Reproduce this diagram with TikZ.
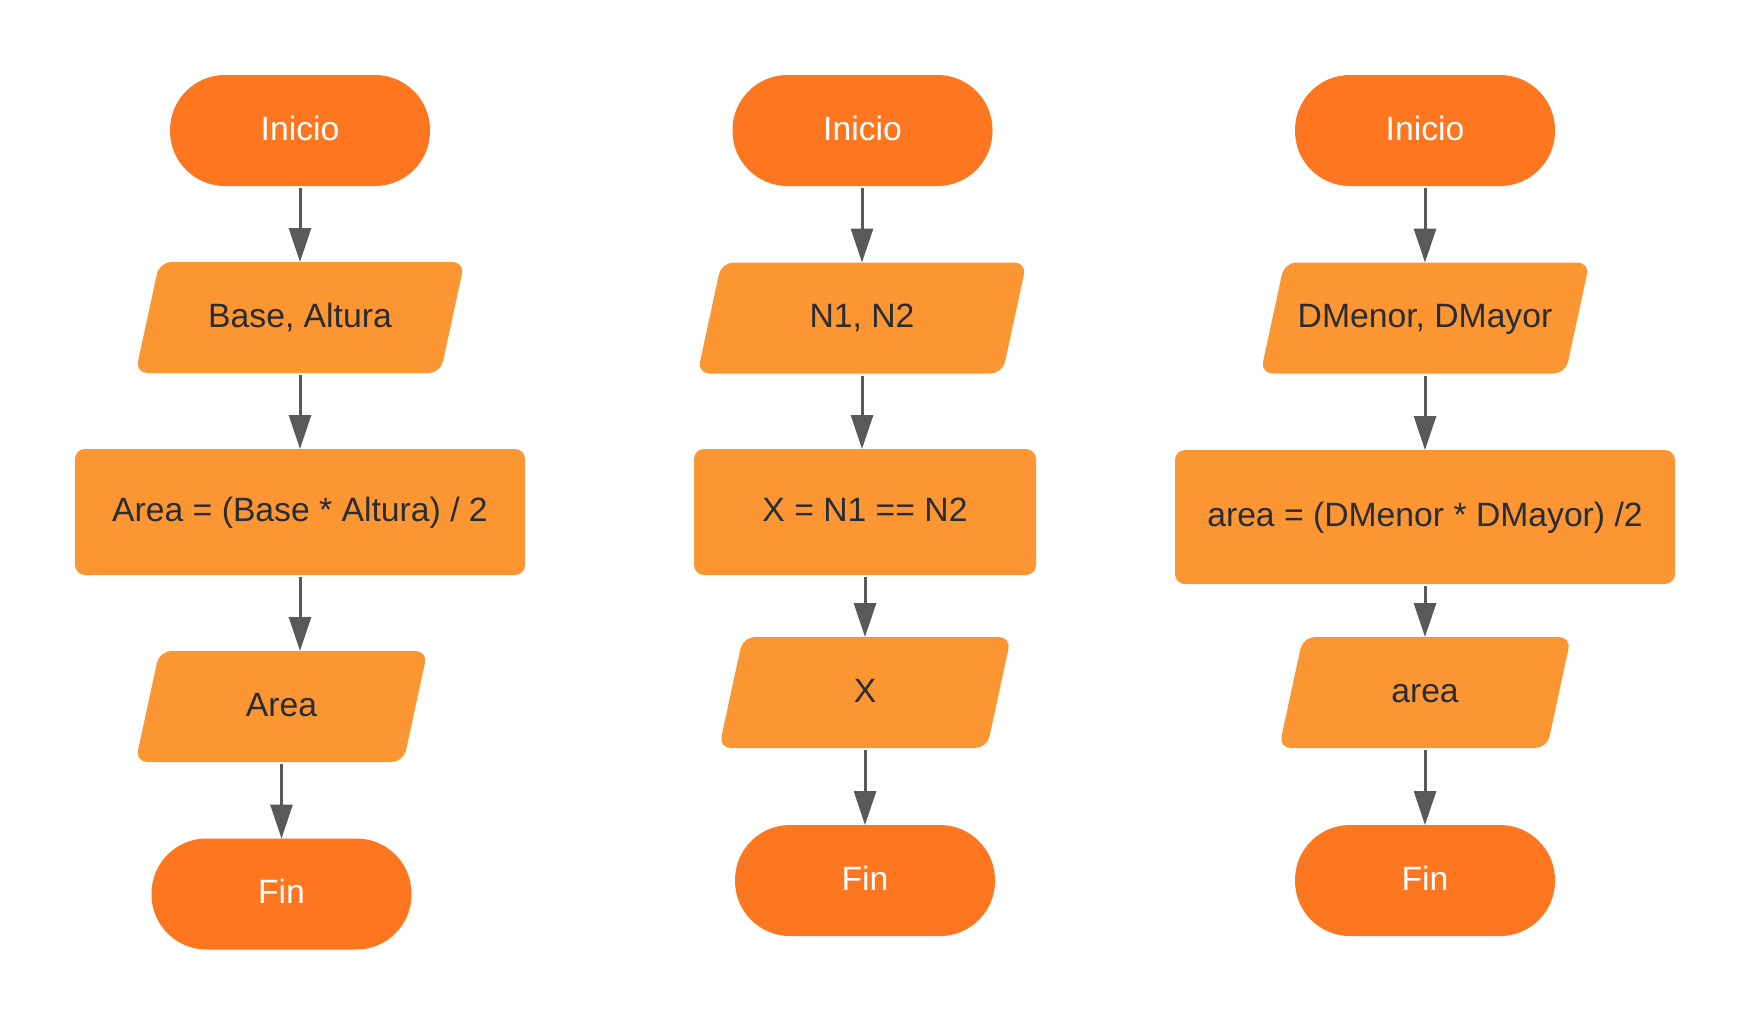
\documentclass[tikz,border=0pt]{standalone}
\usepackage{fontspec}
\setmainfont{Liberation Sans}
\usetikzlibrary{arrows.meta,backgrounds}
\definecolor{cTerm}{HTML}{FE7620}
\definecolor{cBox}{HTML}{FB9633}
\definecolor{cTxt}{HTML}{282C33}
\definecolor{cArr}{HTML}{595959}
\begin{document}
\begin{tikzpicture}[x=1pt,y=-1pt,
  every node/.style={font=\fontsize{33.7}{40}\selectfont, inner sep=0pt, outer sep=0pt,
    text height=24pt, text depth=5pt},
  termbox/.style={fill=cTerm, text=white, rounded corners=55pt, minimum width=260pt, minimum height=111pt},
  iobox/.style={text=cTxt, minimum height=111pt},
  iobig/.style={iobox, minimum width=281pt},
  iosmall/.style={iobox, minimum width=244pt},
  procbox/.style={fill=cBox, text=cTxt, rounded corners=10pt},
  parashape/.style={fill=cBox, rounded corners=12pt},
  flow/.style={draw=cArr, line width=3pt, shorten <=2pt, -{Triangle[width=22pt,length=34pt]}}
]
\useasboundingbox (0,0) rectangle (1751,1026);

% Column 1
\node[termbox] (i1) at (300,130.5) {Inicio};
\node[iobig] (p1) at (300,317.5) {Base, Altura};
\node[procbox, minimum width=450pt, minimum height=126pt] (r1) at (300,512) {Area = (Base * Altura) / 2};
\node[iosmall] (o1) at (281.5,706.5) {Area};
\node[termbox] (f1) at (281.5,894) {Fin};

% Column 2
\node[termbox] (i2) at (862.5,130.5) {Inicio};
\node[iobig] (p2) at (862,318) {N1, N2};
\node[procbox, minimum width=342pt, minimum height=126pt] (r2) at (865,512) {X = N1 == N2};
\node[iosmall] (o2) at (865,692.5) {X};
\node[termbox] (f2) at (865,880.5) {Fin};

% Column 3
\node[termbox] (i3) at (1425,130.5) {Inicio};
\node[iobig] (p3) at (1425,318) {DMenor, DMayor};
\node[procbox, minimum width=500pt, minimum height=134pt] (r3) at (1425,517) {area = (DMenor * DMayor) /2};
\node[iosmall] (o3) at (1425,692.5) {area};
\node[termbox] (f3) at (1425,880.5) {Fin};

% Parallelogram bodies behind the input/output nodes
\begin{scope}[on background layer]
  \fill[white] (0,0) rectangle (1751,1026);
  \foreach \n in {p1,o1,p2,o2,p3,o3} {
    \fill[parashape] (\n.north west) -- ([xshift=24pt]\n.north east)
      -- (\n.south east) -- ([xshift=-24pt]\n.south west) -- cycle;
  }
\end{scope}

% Connectors column 1
\draw[flow] (i1.south) -- (p1.north);
\draw[flow] (p1.south) -- (r1.north);
\draw[flow] (r1.south) -- (r1.south |- o1.north);
\draw[flow] (o1.south) -- (f1.north);

% Connectors column 2
\draw[flow] (i2.south -| p2.north) -- (p2.north);
\draw[flow] (p2.south) -- (p2.south |- r2.north);
\draw[flow] (r2.south) -- (o2.north);
\draw[flow] (o2.south) -- (f2.north);

% Connectors column 3
\draw[flow] (i3.south) -- (p3.north);
\draw[flow] (p3.south) -- (r3.north);
\draw[flow] (r3.south) -- (o3.north);
\draw[flow] (o3.south) -- (f3.north);
\end{tikzpicture}
\end{document}
